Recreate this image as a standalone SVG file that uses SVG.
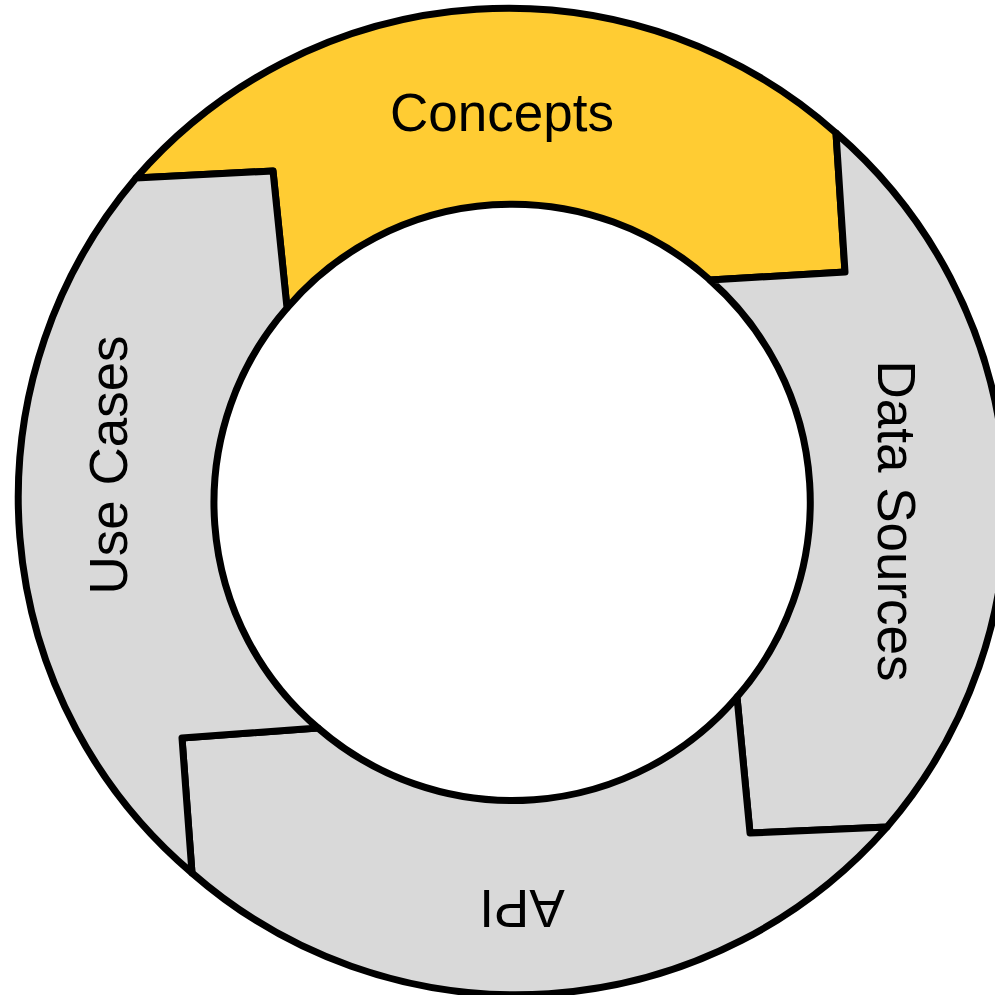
<svg xmlns="http://www.w3.org/2000/svg" width="995" height="995" viewBox="0 0 995 995">
<style>
.seg{stroke:#000;stroke-width:7;stroke-linejoin:round}
.gray{fill:#D9D9D9}
.yellow{fill:#FFCC33}
.lbl{font-family:"Liberation Sans",Arial,sans-serif;font-size:53px;fill:#000;text-anchor:middle}
</style>
<rect width="995" height="995" fill="#fff"/>
<g id="concepts">
<path class="seg yellow" d="M136,178 A493,493 0 0 1 836,133 L845,272 L710,280 A296,296 0 0 0 287,308 L273,171 Z"/>
<text class="lbl" x="502" y="131">Concepts</text>
</g>
<g id="data-sources">
<path class="seg gray" d="M836,133 A493,493 0 0 1 887,827 L750,833 L737,697 A296,296 0 0 0 710,280 L845,272 Z"/>
<text class="lbl" transform="translate(878,521) rotate(90)">Data Sources</text>
</g>
<g id="api">
<path class="seg gray" d="M887,827 A493,493 0 0 1 192,873 L182,738 L318,728 A296,296 0 0 0 737,697 L750,833 Z"/>
<text class="lbl" transform="translate(522,890) rotate(180)">API</text>
</g>
<g id="use-cases">
<path class="seg gray" d="M192,873 A493,493 0 0 1 136,178 L273,171 L287,308 A296,296 0 0 0 318,728 L182,738 Z"/>
<text class="lbl" transform="translate(127,465) rotate(-90)">Use Cases</text>
</g>
<g id="connectors"></g>
</svg>
